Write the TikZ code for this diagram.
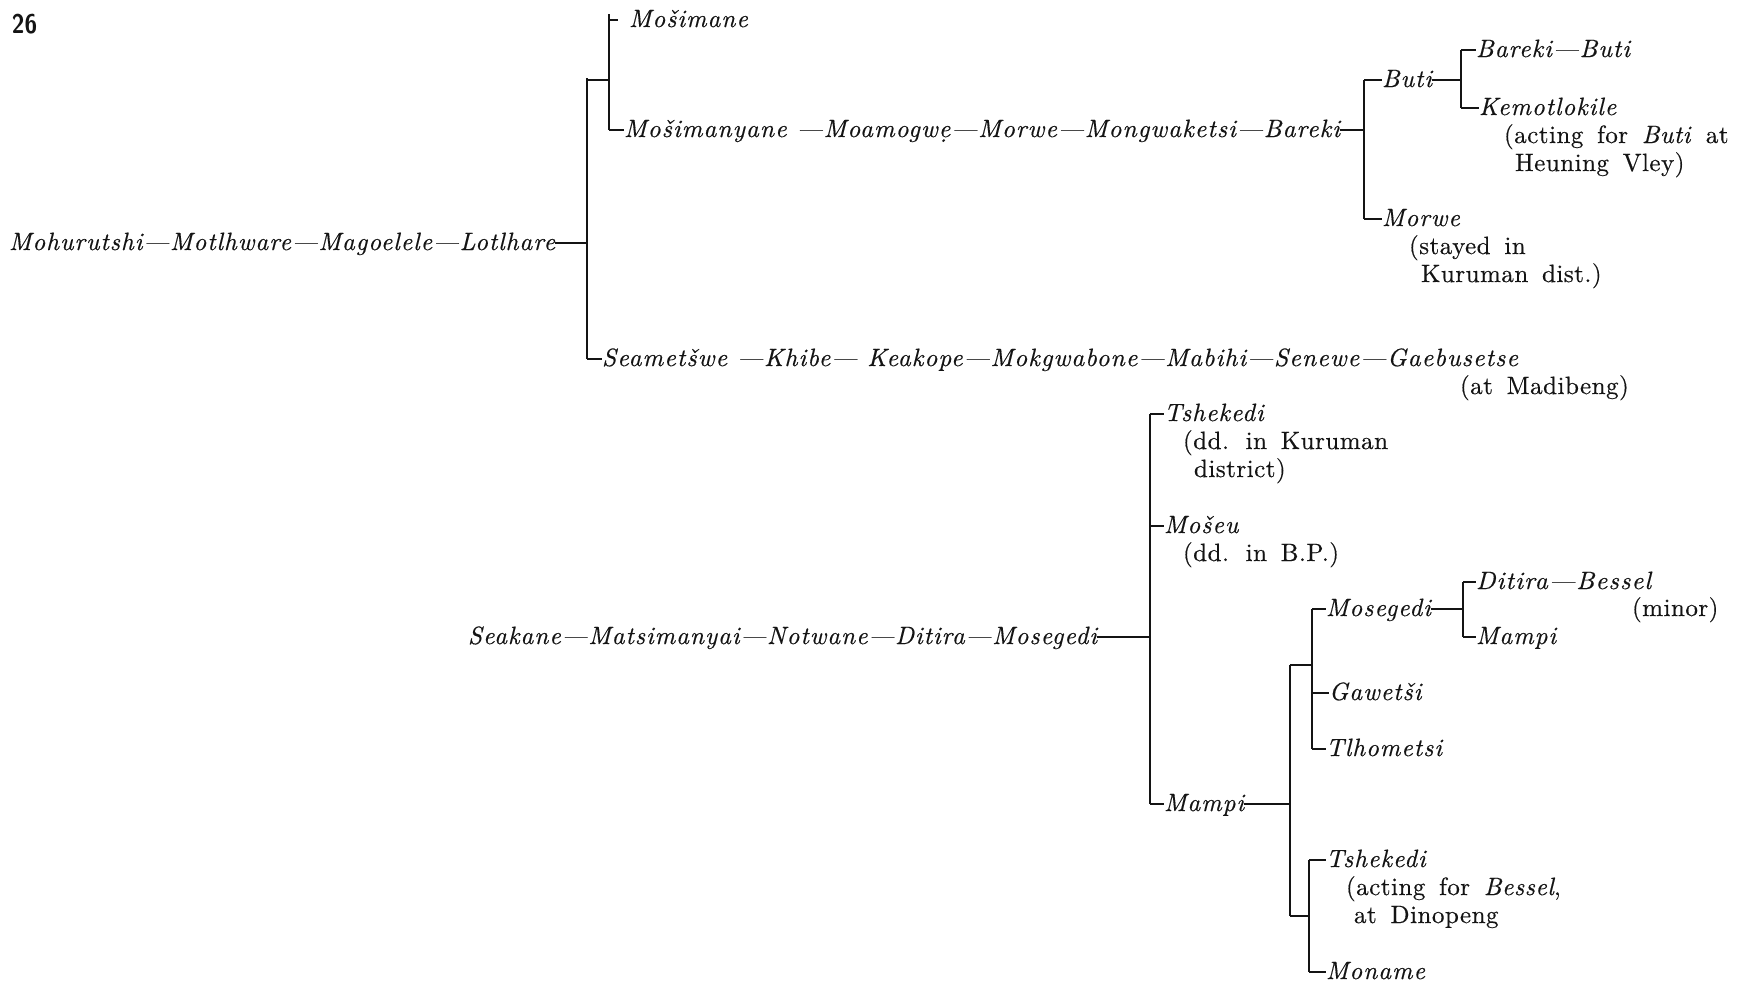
\documentclass[tikz,border=0pt]{standalone}
\usepackage{fontspec}
\usepackage{graphicx}
\setmainfont{lmroman10}[Extension=.otf,UprightFont=*-regular,ItalicFont=*-italic,BoldFont=*-bold,BoldItalicFont=*-bolditalic]
\setsansfont{lmsans10}[Extension=.otf,UprightFont=*-regular,BoldFont=*-bold]
\definecolor{ink}{gray}{0.08}
\newcommand\fitw[2]{\resizebox{#1pt}{\height}{#2}}
\newcommand\namefont{\fontsize{25}{28}\selectfont\itshape\addfontfeatures{LetterSpace=4,FakeBold=0.4}}
\newcommand\notefont{\fontsize{25}{28}\selectfont\addfontfeatures{LetterSpace=2,FakeBold=0.4}\spaceskip=0.55em\relax}
\tikzset{
  basic/.style={inner sep=0pt, outer sep=0pt, anchor=base west, text=ink},
  nm/.style={basic, font=\namefont},
  nt/.style={basic, font=\notefont},
  ln/.style={draw=ink, line width=1.3pt},
}
\begin{document}
\begin{tikzpicture}[x=1pt,y=-1pt]
\useasboundingbox[fill=white] (0,0) rectangle (1747,986);

\node[basic, font=\sffamily\bfseries\fontsize{27}{28}\selectfont] (pg) at (12,33) {\scalebox{0.85}[1]{26}};

% ---------- upper tree ----------
\node[nm] (mohu) at (9,250) {\fitw{546}{Mohurutshi—Motlhware—Magoelele—Lotlhare}};
\coordinate (v1t) at (587,78);
\coordinate (v1k) at (587,80);
\coordinate (v1m) at (587,243);
\coordinate (v1b) at (587,359);
\draw[ln] (v1t) -- (v1b);
\draw[ln] (mohu.east |- v1m) -- (v1m);

\coordinate (v2t) at (609,14);
\coordinate (v2a) at (609,20);
\coordinate (v2c) at (618,20);
\coordinate (v2k) at (609,80);
\coordinate (v2b) at (609,130);
\draw[ln] (v2t) -- (v2b);
\draw[ln] (v1k) -- (v2k);
\draw[ln] (v2a) -- (v2c);
\node[nm] (mosh) at (629,27) {Mošimane};
\node[nm] (moshy) at (624,137) {\fitw{716}{Mošimanyane —Moamogwẹ—Morwe—Mongwaketsi—Bareki}};
\draw[ln] (v2b) -- (v2b -| moshy.west);

\coordinate (v3t) at (1364,80);
\coordinate (v3m) at (1364,130);
\coordinate (v3b) at (1364,219);
\draw[ln] (v3t) -- (v3b);
\draw[ln] (moshy.east |- v3m) -- (v3m);
\node[nm] (buti) at (1382,87) {Buti};
\draw[ln] (v3t) -- (v3t -| buti.west);
\node[nm] (morwe) at (1382,226) {Morwe};
\draw[ln] (v3b) -- (v3b -| morwe.west);
\node[nt] (n2a) at (1409,254) {(stayed in};
\node[nt] (n2b) at (1421,282) {Kuruman dist.)};

\coordinate (v4t) at (1461,50);
\coordinate (v4m) at (1461,80);
\coordinate (v4b) at (1461,108);
\draw[ln] (v4t) -- (v4b);
\draw[ln] (buti.east |- v4m) -- (v4m);
\node[nm] (bb) at (1476,57) {\fitw{154}{Bareki—Buti}};
\draw[ln] (v4t) -- (v4t -| bb.west);
\node[nm] (kemo) at (1479,115) {Kemotlokile};
\draw[ln] (v4b) -- (v4b -| kemo.west);
\node[nt] (n1a) at (1504,143) {(acting for \textit{Buti} at};
\node[nt] (n1b) at (1515,171) {Heuning Vley)};

\node[nm] (seam) at (602,366) {\fitw{916}{Seametšwe —Khibe— Keakope—Mokgwabone—Mabihi—Senewe—Gaebusetse}};
\draw[ln] (v1b) -- (v1b -| seam.west);
\node[nt] (n3) at (1460,394) {(at Madibeng)};

% ---------- lower tree ----------
\node[nm] (seak) at (468,644) {\fitw{629}{Seakane—Matsimanyai—Notwane—Ditira—Mosegedi}};
\coordinate (v5t) at (1150,414);
\coordinate (v5s) at (1150,526);
\coordinate (v5m) at (1150,637);
\coordinate (v5b) at (1150,804);
\draw[ln] (v5t) -- (v5b);
\draw[ln] (seak.east |- v5m) -- (v5m);
\node[nm] (tsh1) at (1164,421) {Tshekedi};
\draw[ln] (v5t) -- (v5t -| tsh1.west);
\node[nt] (n4a) at (1183,449) {(dd. in Kuruman};
\node[nt] (n4b) at (1194,477) {district)};
\node[nm] (mosheu) at (1164,533) {Mošeu};
\draw[ln] (v5s) -- (v5s -| mosheu.west);
\node[nt] (n5) at (1183,561) {(dd. in B.P.)};
\node[nm] (mampi1) at (1164,811) {Mampi};
\draw[ln] (v5b) -- (v5b -| mampi1.west);

\coordinate (v6t) at (1290,665);
\coordinate (v6m) at (1290,804);
\coordinate (v6b) at (1290,916);
\draw[ln] (v6t) -- (v6b);
\draw[ln] (mampi1.east |- v6m) -- (v6m);

\coordinate (v7t) at (1312,609);
\coordinate (v7k) at (1312,665);
\coordinate (v7g) at (1312,693);
\coordinate (v7b) at (1312,749);
\draw[ln] (v7t) -- (v7b);
\draw[ln] (v6t) -- (v7k);
\node[nm] (moseg2) at (1326,616) {Mosegedi};
\draw[ln] (v7t) -- (v7t -| moseg2.west);
\node[nm] (gawe) at (1329,700) {Gawetši};
\draw[ln] (v7g) -- (v7g -| gawe.west);
\node[nm] (tlho) at (1326,756) {Tlhometsi};
\draw[ln] (v7b) -- (v7b -| tlho.west);

\coordinate (v9t) at (1463,582);
\coordinate (v9m) at (1463,609);
\coordinate (v9b) at (1463,637);
\draw[ln] (v9t) -- (v9b);
\draw[ln] (moseg2.east |- v9m) -- (v9m);
\node[nm] (dit) at (1476,589) {\fitw{175}{Ditira—Bessel}};
\draw[ln] (v9t) -- (v9t -| dit.west);
\node[nt] (minor) at (1632,616) {(minor)};
\node[nm] (mampi2) at (1476,644) {Mampi};
\draw[ln] (v9b) -- (v9b -| mampi2.west);

\coordinate (v8t) at (1309,860);
\coordinate (v8k) at (1309,916);
\coordinate (v8b) at (1309,972);
\draw[ln] (v8t) -- (v8b);
\draw[ln] (v6b) -- (v8k);
\node[nm] (tsh2) at (1326,867) {Tshekedi};
\draw[ln] (v8t) -- (v8t -| tsh2.west);
\node[nt] (n6a) at (1346,895) {(acting for \textit{Bessel},};
\node[nt] (n6b) at (1354,923) {at Dinopeng};
\node[nm] (monam) at (1326,979) {Moname};
\draw[ln] (v8b) -- (v8b -| monam.west);
\end{tikzpicture}
\end{document}
